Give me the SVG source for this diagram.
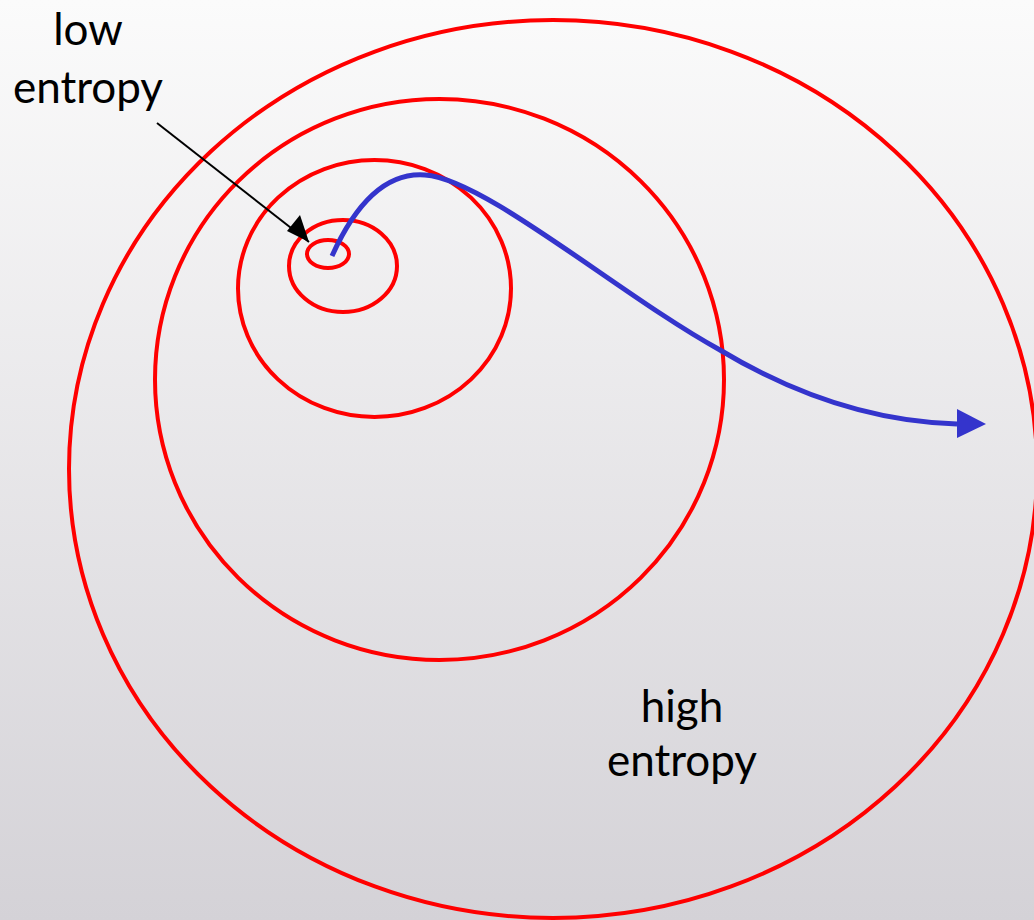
<svg xmlns="http://www.w3.org/2000/svg" width="1034" height="920" viewBox="0 0 1034 920">
<defs>
<linearGradient id="bg" x1="0" y1="0" x2="0" y2="1">
<stop offset="0" stop-color="#fbfbfb"/>
<stop offset="1" stop-color="#d4d2d7"/>
</linearGradient>
<marker id="blackHead" markerWidth="10" markerHeight="10" refX="9" refY="5" orient="auto" markerUnits="userSpaceOnUse" viewBox="0 0 10 10">
<path d="M0,0 L10,5 L0,10 Z" fill="#000"/>
</marker>
<marker id="blueHead" viewBox="0 0 10 10" refX="0" refY="5" markerWidth="29" markerHeight="29" orient="auto" markerUnits="userSpaceOnUse">
<path d="M0,0 L10,5 L0,10 Z" fill="#3434cc"/>
</marker>
<style>
.ring{fill:none;stroke:#ff0000;stroke-width:4}
.label{font-family:Lato,"Liberation Sans",sans-serif;font-size:44px;fill:#000;text-anchor:middle}
</style>
</defs>
<rect width="1034" height="920" fill="url(#bg)"/>
<g id="ring5"><ellipse class="ring" cx="553" cy="469" rx="484" ry="449"/></g>
<g id="ring4"><ellipse class="ring" cx="439.5" cy="379.5" rx="284.5" ry="280.5"/></g>
<g id="ring3"><ellipse class="ring" cx="374.5" cy="288.5" rx="136.5" ry="128.5"/></g>
<g id="ring2"><ellipse class="ring" cx="343" cy="266" rx="54" ry="46"/></g>
<g id="ring1"><ellipse class="ring" cx="328" cy="254" rx="21" ry="14"/></g>
<g id="lowLabel"><text class="label" x="88" y="45">low</text><text class="label" x="88" y="103">entropy</text></g>
<g id="highLabel"><text class="label" x="682" y="722">high</text><text class="label" x="682" y="776">entropy</text></g>
<g id="connectors">
<line x1="157" y1="123" x2="309" y2="242" stroke="#000" stroke-width="2"/>
<path d="M309,242 L287,231 L300,215 Z" fill="#000"/>
<path d="M332,256 C355,205 385,172 425,175 C485,179 620,295 720,350 C800,398 880,422 957,424" fill="none" stroke="#3434cc" stroke-width="5"/>
<path d="M957,409 L986,424 L957,438 Z" fill="#3434cc"/>
</g>
</svg>
